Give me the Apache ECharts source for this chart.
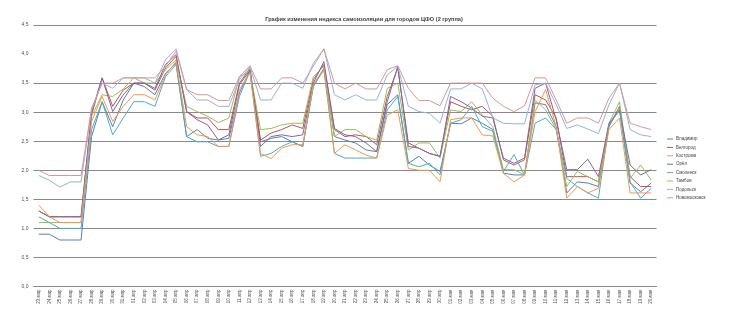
<!DOCTYPE html>
<html><head><meta charset="utf-8">
<script src="https://cdn.jsdelivr.net/npm/echarts@6/dist/echarts.min.js"></script>
<style>html,body{margin:0;padding:0;background:#fff}#c{width:735px;height:322px}</style>
</head><body><div id="c"></div>
<script>
const categories = ["23.мар","24.мар","25.мар","26.мар","27.мар","28.мар","29.мар","30.мар","31.мар",
"01.апр","02.апр","03.апр","04.апр","05.апр","06.апр","07.апр","08.апр","09.апр","10.апр","11.апр","12.апр","13.апр","14.апр","15.апр","16.апр","17.апр","18.апр","19.апр","20.апр","21.апр","22.апр","23.апр","24.апр","25.апр","26.апр","27.апр","28.апр","29.апр","30.апр",
"01.мая","02.мая","03.мая","04.мая","05.мая","06.мая","07.мая","08.мая","09.мая","10.мая","11.мая","12.мая","13.мая","14.мая","15.мая","16.мая","17.мая","18.мая","19.мая","20.мая"];
const seriesNames = ["Владимир","Белгород","Кострома","Орёл","Смоленск","Тамбов","Подольск","Новомосковск"];
const vladimir = [0.90,0.90,0.80,0.80,0.80,2.58,3.18,2.75,3.21,3.50,3.44,3.30,3.67,3.84,2.58,2.70,2.55,2.52,2.55,3.33,3.72,2.49,2.55,2.58,2.49,2.41,3.44,3.74,2.58,2.52,2.47,2.35,2.32,3.13,3.30,2.12,2.24,2.09,1.98,2.81,2.80,2.90,2.81,2.70,1.95,1.92,1.92,3.16,3.13,2.75,1.61,1.80,1.78,1.72,2.78,3.04,1.78,1.63,1.78];
const belgorod = [1.30,1.20,1.20,1.20,1.20,2.95,3.59,3.10,3.38,3.50,3.50,3.38,3.76,3.96,3.01,2.90,2.90,2.70,2.70,3.50,3.75,2.52,2.64,2.70,2.78,2.72,3.56,3.82,2.70,2.58,2.61,2.58,2.44,3.27,3.76,2.47,2.38,2.29,2.24,3.18,3.10,3.04,3.10,2.93,2.18,2.09,2.18,3.30,3.21,2.90,1.89,1.89,1.89,1.80,2.75,3.10,1.89,1.72,1.72];
const kostroma = [1.10,1.10,1.10,1.10,1.10,2.93,3.30,3.27,3.40,3.59,3.50,3.50,3.73,3.90,3.10,3.01,2.93,2.82,2.90,3.61,3.70,2.70,2.72,2.78,2.81,2.81,3.61,3.79,2.58,2.70,2.70,2.58,2.52,3.41,3.50,2.35,2.47,2.47,2.21,3.04,3.01,3.18,2.95,2.75,2.01,2.01,1.92,3.21,3.04,2.70,1.72,1.98,1.89,1.80,2.81,3.18,1.86,2.09,1.83];
const orel = [1.30,1.20,1.20,1.20,1.20,3.00,3.59,3.01,3.30,3.50,3.50,3.41,3.82,3.99,3.01,2.87,2.78,2.52,2.61,3.47,3.72,2.41,2.58,2.61,2.58,2.61,3.50,3.87,2.72,2.61,2.58,2.47,2.32,3.18,3.79,2.41,2.38,2.29,2.24,3.27,3.18,3.07,2.93,2.90,2.21,2.12,2.21,3.41,3.50,2.87,2.01,2.01,2.19,1.89,2.81,3.04,2.09,1.92,2.01];
const smolensk = [1.20,1.10,1.00,1.00,1.00,2.70,3.18,2.61,2.90,3.18,3.18,3.10,3.61,3.82,2.58,2.49,2.49,2.41,2.41,3.27,3.70,2.24,2.29,2.41,2.49,2.41,3.47,3.73,2.29,2.21,2.21,2.21,2.21,3.04,3.27,2.12,2.06,2.12,1.92,2.81,2.87,3.10,2.75,2.67,1.98,2.27,1.92,2.81,2.90,2.70,1.86,1.72,1.61,1.52,2.78,3.04,1.80,1.52,1.69];
const tambov = [1.40,1.20,1.10,1.10,1.10,2.84,3.27,2.84,3.10,3.30,3.30,3.21,3.64,3.87,2.75,2.61,2.58,2.41,2.41,3.39,3.68,2.29,2.20,2.38,2.44,2.44,3.47,3.76,2.29,2.44,2.35,2.26,2.21,2.95,3.04,2.03,2.00,2.00,1.80,2.87,2.90,2.90,2.61,2.59,1.95,1.80,1.92,3.01,3.39,2.75,1.52,1.72,1.61,1.69,2.70,2.90,1.61,1.61,1.61];
const podolsk = [1.91,1.83,1.71,1.80,1.80,3.04,3.50,3.41,3.59,3.59,3.59,3.50,3.90,4.09,3.39,3.21,3.21,3.10,3.10,3.56,3.78,3.21,3.21,3.50,3.50,3.41,3.84,4.09,3.30,3.21,3.30,3.21,3.21,3.64,3.79,3.10,3.01,2.98,2.81,3.40,3.40,3.50,3.40,2.90,2.81,2.80,2.80,3.47,3.50,3.13,2.72,2.78,2.71,2.63,3.13,3.50,2.70,2.61,2.58];
const novomoskovsk = [2.00,1.91,1.91,1.91,1.91,3.07,3.50,3.50,3.59,3.59,3.59,3.59,3.79,4.05,3.39,3.30,3.30,3.20,3.20,3.61,3.80,3.40,3.40,3.59,3.59,3.50,3.79,4.09,3.50,3.40,3.50,3.40,3.40,3.73,3.80,3.41,3.20,3.20,3.11,3.50,3.50,3.50,3.50,3.24,3.10,3.01,3.11,3.59,3.59,3.21,2.81,2.90,2.90,2.81,3.24,3.50,2.81,2.75,2.70];
const yTicks = [0,0.5,1,1.5,2,2.5,3,3.5,4,4.5];
const colors = ["#4F81BD","#C0504D","#9BBB59","#8064A2","#4BACC6","#F79646","#95B3D7","#D99694"];

const allData = [vladimir,belgorod,kostroma,orel,smolensk,tambov,podolsk,novomoskovsk];
const chart = echarts.init(document.getElementById('c'), null, {renderer:'canvas'});
const gridColors = yTicks.map(v => v === 4 ? 'rgba(0,0,0,0)' : '#8a8a8a');
chart.setOption({
  animation:false,
  color:colors,
  textStyle:{fontFamily:'Liberation Sans, Arial, sans-serif'},
  title:{text:'График изменения индекса самоизоляции для городов ЦФО (2 группа)',left:359,top:11,textAlign:'center',
    textStyle:{fontSize:5.6,fontWeight:'bold',color:'#404040'}},
  legend:{orient:'vertical',left:662,top:131,itemWidth:6,itemHeight:1,itemGap:2.4,icon:'rect',
    textStyle:{fontSize:4.5,color:'#404040',lineHeight:6,padding:[0,0,0,-2]},data:seriesNames},
  grid:{left:33.5,top:25,width:623,height:261.5,containLabel:false},
  xAxis:{type:'category',data:categories,boundaryGap:true,
    axisLine:{lineStyle:{color:'#8a8a8a',width:1}},
    axisTick:{show:false},
    axisLabel:{rotate:90,fontSize:4.5,color:'#505050',interval:0,margin:3}},
  yAxis:{type:'value',min:0,max:4.5,interval:0.5,
    axisLine:{show:false},axisTick:{show:false},
    axisLabel:{fontSize:5,color:'#505050',margin:5,formatter:v=>v.toFixed(1).replace('.',',')},
    splitLine:{show:true,lineStyle:{color:gridColors,width:1}}},
  series:seriesNames.map((n,i)=>({name:n,type:'line',data:allData[i],symbol:'none',
    lineStyle:{width:1,color:colors[i]},itemStyle:{color:colors[i]}}))
});
</script></body></html>
